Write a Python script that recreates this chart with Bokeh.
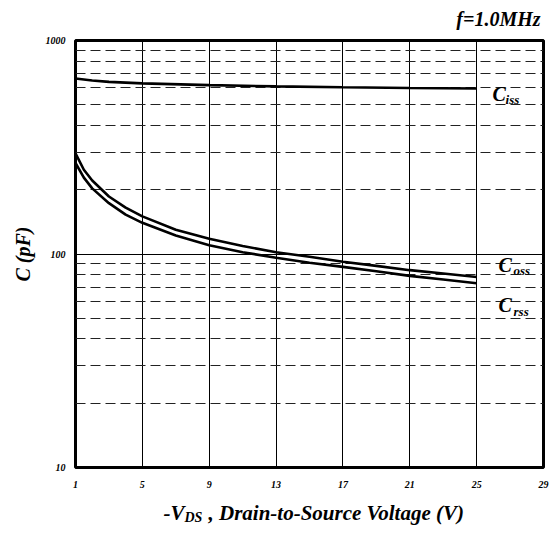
import math
from bokeh.plotting import figure
from bokeh.layouts import column
from bokeh.models import FixedTicker, Grid, Label, PrintfTickFormatter, Range1d
from bokeh.embed import file_html
from bokeh.resources import INLINE

# ---- data ----
vds_iss = [1, 2, 3, 5, 9, 13, 17, 21, 25]
ciss = [664, 650, 640, 630, 618, 610, 604, 599, 596]

vds_oss = [1, 1.5, 2, 3, 4, 5, 7, 9, 11, 13, 15, 17, 19, 21, 23, 25]
coss = [296, 248, 221, 186, 165, 150, 130, 118, 109, 102, 97, 92, 88, 84, 81, 78]
crss = [267, 228, 203, 173, 153, 140, 122, 110, 102, 96, 91, 87, 83, 79, 76, 73]

x_ticks = [1, 5, 9, 13, 17, 21, 25, 29]
x_grid_ticks = [5, 9, 13, 17, 21, 25]
y_ticks = [10, 100, 1000]
y_minor_ticks = [20, 30, 40, 50, 60, 70, 80, 90, 200, 300, 400, 500, 600, 700, 800, 900]

FONT = "Liberation Serif"
STYLE = "bold italic"
W = 552
LEFT, RIGHT = 75, 9   # frame borders (px); strips share the main frame's alignment


def strip(h):
    # the column layout aligns this strip's frame with the main chart's frame,
    # so its x range is expressed in page pixels over that frame span
    s = figure(width=W, height=h, x_range=Range1d(LEFT, W - RIGHT), y_range=Range1d(0, h),
               x_axis_location=None, y_axis_location=None, toolbar_location=None,
               output_backend="svg", min_border=0,
               min_border_left=LEFT, min_border_right=RIGHT)
    s.outline_line_color = None
    s.background_fill_color = "white"
    s.border_fill_color = "white"
    s.grid.visible = False
    return s


def lab(fig, x, y, text, size, xo=0, align="left", angle=0.0):
    fig.add_layout(Label(x=x, y=y, text=text, text_font=FONT, text_font_style=STYLE,
                         text_font_size=size, text_color="black", text_align=align,
                         text_baseline="middle", x_offset=xo, angle=angle))


# ---- top strip: frequency note ----
top = strip(30)
lab(top, 540, 12, "f=1.0MHz", "20px", align="right")

# ---- main chart ----
p = figure(width=W, height=470, x_range=Range1d(1, 29), y_range=Range1d(10, 1000),
           y_axis_type="log", output_backend="svg", toolbar_location=None,
           min_border_left=LEFT, min_border_right=RIGHT, min_border_top=10, min_border_bottom=33)
p.background_fill_color = "white"
p.border_fill_color = "white"
p.outline_line_color = "black"
p.outline_line_width = 3

for ax in (p.xaxis[0], p.yaxis[0]):
    ax.axis_line_color = None
    ax.major_tick_line_color = None
    ax.minor_tick_line_color = None
    ax.major_tick_out = 0
    ax.major_tick_in = 0
    ax.minor_tick_out = 0
    ax.minor_tick_in = 0
    ax.major_label_text_font = FONT
    ax.major_label_text_font_style = STYLE
    ax.major_label_text_font_size = "10px"
    ax.major_label_text_color = "black"
p.xaxis[0].ticker = FixedTicker(ticks=x_ticks)
p.xaxis[0].major_label_standoff = 13
p.yaxis[0].ticker = FixedTicker(ticks=y_ticks)
p.yaxis[0].formatter = PrintfTickFormatter(format="%d")
p.yaxis[0].major_label_standoff = 10
p.yaxis[0].axis_label = "C (pF)"
p.yaxis[0].axis_label_text_font = FONT
p.yaxis[0].axis_label_text_font_style = STYLE
p.yaxis[0].axis_label_text_font_size = "20px"
p.yaxis[0].axis_label_text_color = "black"
p.yaxis[0].axis_label_standoff = 9

p.xgrid[0].ticker = FixedTicker(ticks=x_grid_ticks)
p.xgrid[0].grid_line_color = "black"
p.xgrid[0].grid_line_width = 1
p.ygrid[0].ticker = FixedTicker(ticks=[100])
p.ygrid[0].grid_line_color = "black"
p.ygrid[0].grid_line_width = 1
dgrid = Grid(dimension=1, ticker=FixedTicker(ticks=y_minor_ticks),
             grid_line_color="#222222", grid_line_width=1, grid_line_dash="10 5")
p.add_layout(dgrid)

p.line(vds_iss, ciss, line_color="black", line_width=2.6)
p.line(vds_oss, coss, line_color="black", line_width=2.6)
p.line(vds_oss, crss, line_color="black", line_width=2.6)

lab(p, 25.95, 561, "C", "20px")
lab(p, 25.95, 529, "iss", "13px", xo=13)
lab(p, 26.31, 88.8, "C", "20px")
lab(p, 26.31, 84.1, "oss", "13px", xo=15)
lab(p, 26.31, 57.7, "C", "20px")
lab(p, 26.31, 54.0, "rss", "13px", xo=15)

# ---- bottom strip: x-axis title ----
bot = strip(33)
lab(bot, 163, 21, "-V", "21px")
lab(bot, 184, 16, "DS", "14px")
lab(bot, 208, 21, ", Drain-to-Source Voltage (V)", "21px")

layout = column(top, p, bot, spacing=0)
open("out.html", "w").write(file_html(layout, INLINE))
